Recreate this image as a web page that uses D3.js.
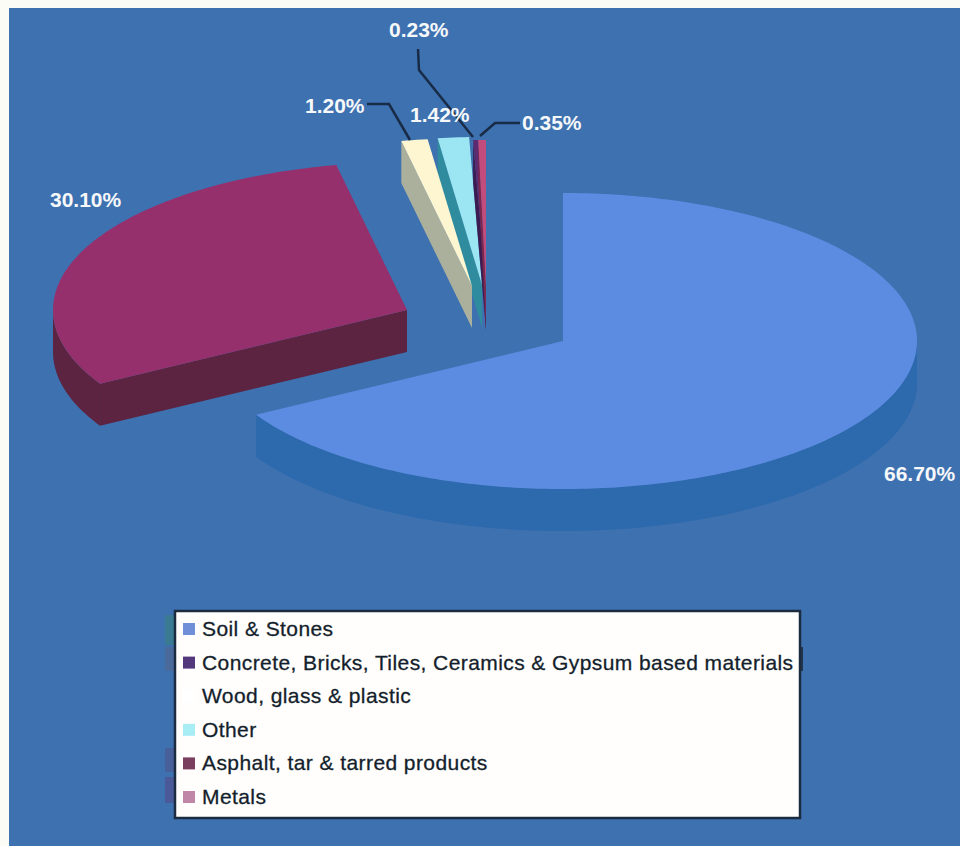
<!DOCTYPE html>
<html><head><meta charset="utf-8">
<script src="https://cdn.jsdelivr.net/npm/d3@7"></script>
<style>html,body{margin:0;padding:0;background:#fbfcf6;overflow:hidden}svg{display:block}</style>
</head><body><svg id="c" width="960" height="846"></svg>
<script>
// data
const categories = ["Soil & Stones","Concrete, Bricks, Tiles, Ceramics & Gypsum based materials","Wood, glass & plastic","Other","Asphalt, tar & tarred products","Metals"];
const values = [66.70,0.23,1.20,1.42,30.10,0.35];
const pieOrder = [0,4,2,3,1,5];
// style and layout
const topColors = ["#5b8ce2","#5c2a70","#fdf6d0","#9be6f2","#96306c","#c24c7c"];
const sideColors = ["#2c69ad","#3c1c50","#abb09c","#2f8c9e","#5c2440","#7a2850"];
const legendColors = ["#6f8fd8","#54387c","#ffffff","#a8ecf4","#7a3f5f","#c086a8"];
const explode = [[0,0],[-77,-53],[-91,-55],[-81,-56],[-156,-31],[-77,-53]];
const labelPos = [[884,481],[389,37],[305,113],[410,122],[50,207],[522,130]];
const leaders = [null,[[418,49],[419,70],[473,137]],[[367,104],[389,104],[410,140]],null,null,[[520,123],[495,123],[480,136]]];
const cx=563, cy=341, rx=354, ry=148, depth=42;

const svg=d3.select("#c");
svg.append("rect").attr("x",9).attr("y",8).attr("width",951).attr("height",838).attr("fill","#3e71b0");

const pie=d3.pie().sort((a,b)=>pieOrder.indexOf(a)-pieOrder.indexOf(b)).value(i=>values[i]);
const arcs=pie(d3.range(values.length));
const byIndex=new Map(arcs.map(a=>[a.data,a]));
const line=d3.line();
const pt=(i,a,d=0)=>[cx+explode[i][0]+rx*Math.sin(a), cy+explode[i][1]-ry*Math.cos(a)+d];
const apex=(i,d=0)=>[cx+explode[i][0], cy+explode[i][1]+d];
const sample=(a0,a1)=>{const n=Math.max(2,Math.ceil((a1-a0)*60));return d3.range(n+1).map(k=>a0+(a1-a0)*k/n);};

const draw=[4,3,2,1,5,0];
const g=svg.append("g");
draw.forEach(i=>{
  const a=byIndex.get(i), s=a.startAngle, e=a.endAngle;
  if(Math.sin(s)<-1e-6) g.append("path").attr("fill",sideColors[i])
    .attr("d",line([apex(i),pt(i,s),pt(i,s,depth),apex(i,depth)])+"Z");
  if(Math.sin(e)>1e-6) g.append("path").attr("fill",sideColors[i])
    .attr("d",line([apex(i),pt(i,e),pt(i,e,depth),apex(i,depth)])+"Z");
  const r0=Math.max(s,Math.PI/2), r1=Math.min(e,Math.PI*1.5);
  if(r1>r0){
    const as=sample(r0,r1);
    g.append("path").attr("fill",sideColors[i])
     .attr("d",line(as.map(t=>pt(i,t)).concat(as.slice().reverse().map(t=>pt(i,t,depth))))+"Z");
  }
  g.append("path").attr("fill",topColors[i])
   .attr("d",line([apex(i)].concat(sample(s,e).map(t=>pt(i,t))))+"Z");
});

leaders.forEach(l=>{ if(l) svg.append("path").attr("d",line(l)).attr("fill","none").attr("stroke","#182c48").attr("stroke-width",2.5);});

const fmt=d3.format(".2f");
values.forEach((v,i)=>{
  svg.append("text").attr("x",labelPos[i][0]).attr("y",labelPos[i][1])
   .attr("font-family","'Liberation Sans',Arial,sans-serif").attr("font-weight","bold")
   .attr("font-size",21).attr("fill","#f6f8fa").text(fmt(v)+"%");
});

[[165,615,10,30,"#3a7a92"],[165,647,10,24,"#4a6a9c"],[165,748,10,24,"#48609a"],[165,777,10,26,"#4a5a98"],[799,647,4,24,"#22364e"]]
 .forEach(r=>svg.append("rect").attr("x",r[0]).attr("y",r[1]).attr("width",r[2]).attr("height",r[3]).attr("fill",r[4]));
svg.append("rect").attr("x",175).attr("y",611).attr("width",625).attr("height",207)
  .attr("fill","#fffefc").attr("stroke","#1c2c40").attr("stroke-width",2.5);
const rowY=d3.scalePoint().domain(d3.range(categories.length)).range([629,797]);
categories.forEach((c,i)=>{
  const y=rowY(i);
  svg.append("rect").attr("x",183).attr("y",y-6).attr("width",12).attr("height",12).attr("fill",legendColors[i]);
  svg.append("text").attr("x",202).attr("y",y+7).attr("font-family","'Liberation Sans',Arial,sans-serif")
   .attr("font-size",21).attr("letter-spacing",0.42).attr("stroke","#141e2c").attr("stroke-width",0.3)
   .attr("fill","#141e2c").text(c);
});
</script></body></html>
